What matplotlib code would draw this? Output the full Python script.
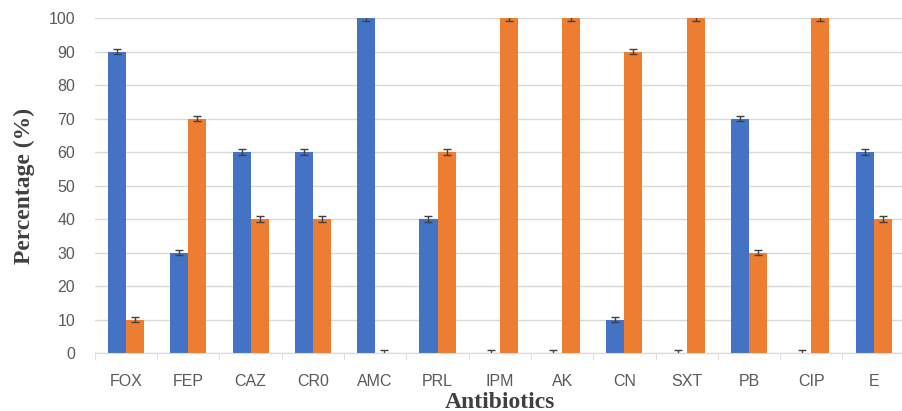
import numpy as np
import matplotlib.pyplot as plt

# ---------------data-----------
antibiotics = ["FOX", "FEP", "CAZ", "CR0", "AMC", "PRL", "IPM", "AK", "CN", "SXT", "PB", "CIP", "E"]
sensitive = [90, 30, 60, 60, 100, 40, 0, 0, 10, 0, 70, 0, 60]
resistant = [10, 70, 40, 40, 0, 60, 100, 100, 90, 100, 30, 100, 40]
err_s = [0.8] * len(antibiotics)
err_r = [0.8] * len(antibiotics)

# ---------------figure-----------
fig = plt.figure(figsize=(9.03, 4.11), dpi=100)
ax = fig.add_axes([0.105, 0.141, 0.897, 0.815])

x = np.arange(len(antibiotics))
w = 0.29
ek = dict(ecolor="#404040", elinewidth=1.0, capsize=3, capthick=1.0)
ax.bar(x - w / 2, sensitive, w, color="#4472C4", yerr=err_s, error_kw=ek, zorder=2)
ax.bar(x + w / 2, resistant, w, color="#ED7D31", yerr=err_r, error_kw=ek, zorder=2)

ax.set_xlim(-0.5, len(antibiotics) - 0.5)
ax.set_ylim(0, 100)
ax.set_yticks(range(0, 101, 10))
ax.set_xticks(x)
ax.set_xticklabels(antibiotics)
ax.set_xticks(np.arange(-0.5, len(antibiotics)), minor=True)
ax.tick_params(axis="x", which="major", length=0, pad=15)
ax.tick_params(axis="x", which="minor", length=5, color="#D9D9D9")
ax.tick_params(axis="y", length=0, pad=14)
for lab in ax.get_xticklabels() + ax.get_yticklabels():
    lab.set_fontsize(11.5)
    lab.set_color("#595959")
    lab.set_family("Liberation Sans")

ax.grid(axis="y", color="#D9D9D9", linewidth=1, zorder=0)
for s in ["top", "right", "left"]:
    ax.spines[s].set_visible(False)
ax.spines["bottom"].set_color("#D9D9D9")

ax.set_ylabel("Percentage (%)", fontsize=17, fontweight="bold", family="Liberation Serif", color="#404040", labelpad=10)
ax.set_xlabel("Antibiotics", fontsize=17, fontweight="bold", family="Liberation Serif", color="#404040", labelpad=2)

fig.savefig("out.png", dpi=100)
